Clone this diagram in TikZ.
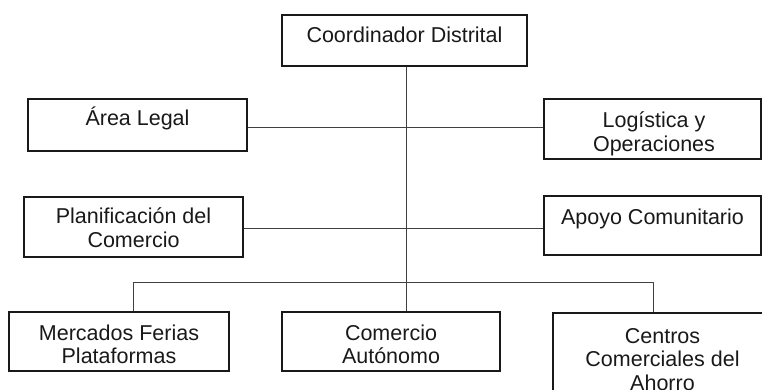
\documentclass[tikz,border=0pt]{standalone}
\usepackage{fontspec}
\setmainfont{Liberation Sans}
\begin{document}
\begin{tikzpicture}[x=1pt,y=-1pt,
  box/.style={draw=black!90,line width=1.5pt,inner sep=0pt,rectangle},
  link/.style={draw=black!75,line width=1pt},
  txt/.style={inner sep=0pt,anchor=base,align=center,font=\fontsize{21.5}{23.5}\selectfont,text=black!90}]
\useasboundingbox (0,0) rectangle (762,390);
\clip (0,0) rectangle (762,390);
% boxes
\node[box,minimum width=245pt,minimum height=51pt] (coord) at (404.5,40.5) {};
\node[box,minimum width=219pt,minimum height=52pt] (legal) at (137.5,125) {};
\node[box,minimum width=217pt,minimum height=60pt] (logis) at (652.5,129) {};
\node[box,minimum width=219pt,minimum height=60pt] (plan) at (133.5,227) {};
\node[box,minimum width=217pt,minimum height=59pt] (apoyo) at (652.5,225.5) {};
\node[box,minimum width=220pt,minimum height=59pt] (merc) at (119,341.5) {};
\node[box,minimum width=218pt,minimum height=59pt] (comer) at (391,341.5) {};
\node[box,minimum width=219pt,minimum height=100pt] (cent) at (662.5,363) {};
% texts (anchor = baseline of the last line)
\node[txt] (tcoord) at (404.5,43) {Coordinador Distrital};
\node[txt] (tlegal) at (137.5,126) {Área Legal};
\node[txt] (tlogis) at (654,151.5) {Logística y\\Operaciones};
\node[txt] (tplan) at (133.5,247) {Planificación del\\Comercio};
\node[txt] (tapoyo) at (652.5,224) {Apoyo Comunitario};
\node[txt] (tmerc) at (119,363.5) {Mercados Ferias\\Plataformas};
\node[txt] (tcomer) at (391,363.5) {Comercio\\Autónomo};
\node[txt] (tcent) at (662.5,390) {Centros\\Comerciales del\\Ahorro};
% connectors
\coordinate (trunk) at (406,0);
\coordinate (lvl1) at (0,128);
\coordinate (lvl2) at (0,228);
\coordinate (bus) at (0,282);
\draw[link] (coord.south -| trunk) -- (comer.north -| trunk);
\draw[link] (legal.east |- lvl1) -- (logis.west |- lvl1);
\draw[link] (plan.east |- lvl2) -- (apoyo.west |- lvl2);
\coordinate (mercX) at (133,0);
\coordinate (centX) at (653,0);
\draw[link] (merc.north -| mercX) -- (bus -| mercX) -- (bus -| centX) -- (cent.north -| centX);
\end{tikzpicture}
\end{document}
